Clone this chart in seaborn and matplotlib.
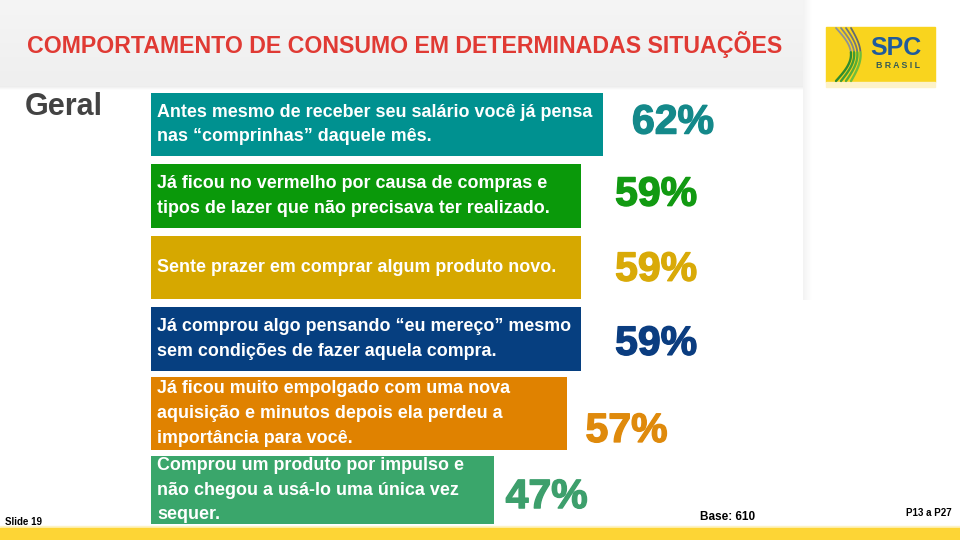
import numpy as np
import pandas as pd
import matplotlib
matplotlib.use("Agg")
import matplotlib.pyplot as plt
from matplotlib.patches import Rectangle
from matplotlib.colors import LinearSegmentedColormap
import matplotlib.patheffects as pe
import seaborn as sns

# ---------------- data ----------------
statements = [
    "Antes mesmo de receber seu salário você já pensa\nnas \u201ccomprinhas\u201d daquele mês.",
    "Já ficou no vermelho por causa de compras e\ntipos de lazer que não precisava ter realizado.",
    "Sente prazer em comprar algum produto novo.",
    "Já comprou algo pensando \u201ceu mereço\u201d mesmo\nsem condições de fazer aquela compra.",
    "Já ficou muito empolgado com uma nova\naquisição e minutos depois ela perdeu a\nimportância para você.",
    "Comprou um produto por impulso e\nnão chegou a usá-lo uma única vez\nsequer.",
]
values = [62, 59, 59, 59, 57, 47]
value_labels = ["62%", "59%", "59%", "59%", "57%", "47%"]

title = "COMPORTAMENTO DE CONSUMO EM DETERMINADAS SITUAÇÕES"
section = "Geral"
slide_note = "Slide 19"
base_note = "Base: 610"
question_note = "P13 a P27"

# ---------------- style ----------------
bar_colors = ["#009190", "#0a990a", "#d6a800", "#063f80", "#e08200", "#3aa66b"]
label_colors = ["#14898a", "#129a12", "#d9aa08", "#0b3d80", "#df8a0c", "#3d9f6c"]
bar_thickness = [0.87, 0.87, 0.87, 0.87, 1.0, 0.93]   # fraction of a category slot
bar_shift = [0, -0.025, -0.045, -0.07, -0.05, 0]       # small vertical nudge (slots)
label_dx_px = [29, 34, 34, 34, 19, 12]
label_dy_px = [-2, -3, -1, 0, 14, 7]

W, H = 960, 540
fig = plt.figure(figsize=(W / 100, H / 100), dpi=100)
fig.patch.set_facecolor("white")

# background layer in pixel coordinates
bg = fig.add_axes([0, 0, 1, 1], zorder=0)
bg.set_xlim(0, W)
bg.set_ylim(H, 0)
bg.axis("off")

hdr_cmap = LinearSegmentedColormap.from_list("hdr", ["#f5f5f5", "#f2f2f2", "#efefef"])
bg.imshow(np.linspace(0, 1, 100).reshape(-1, 1), cmap=hdr_cmap,
          extent=(0, 803, 86, 0), aspect="auto", zorder=0)
sh_cmap = LinearSegmentedColormap.from_list("sh", ["#ebebeb", "#ffffff"])
bg.imshow(np.linspace(0, 1, 50).reshape(-1, 1), cmap=sh_cmap,
          extent=(0, 803, 90, 86), aspect="auto", zorder=0)
vs_cmap = LinearSegmentedColormap.from_list("vs", ["#f3f3f3", "#ffffff"])
bg.imshow(np.linspace(0, 1, 50).reshape(1, -1), cmap=vs_cmap,
          extent=(803, 812, 300, 0), aspect="auto", zorder=0)
bg.add_patch(Rectangle((0, 526), W, 2, color="#fdf3c4", zorder=1))
bg.add_patch(Rectangle((0, 528), W, 12, color="#fdd535", zorder=1))

# logo
bg.add_patch(Rectangle((826, 27), 109, 55, color="#f9d41e", zorder=2))
bg.add_patch(Rectangle((826, 82), 109, 5, color="#fdf2c8", zorder=2))
t = np.linspace(0, 1, 60)
for k in range(4):
    xs = 836 + 5 * k + 15 * np.sin(np.pi * t) * (1 - 0.12 * k)
    ys = 28 + 53 * t
    top = t <= 0.45
    bg.plot(xs[top], ys[top], color=["#8d9298", "#7f858b", "#70777d", "#646b71"][k],
            lw=1.3, solid_capstyle="round", zorder=3)
    bg.plot(xs[~top], ys[~top], color=["#2e8c2e", "#3f9c34", "#55ad38", "#6fbd3c"][k],
            lw=1.7, solid_capstyle="round", zorder=3)
bg.text(896, 48, "SPC", color="#1f5b9c", fontsize=18, fontweight="bold",
        family="Liberation Sans", ha="center", va="center", zorder=4)
bg.text(898, 65, "B R A S I L", color="#355a55", fontsize=6.3, fontweight="bold",
        family="Liberation Sans", ha="center", va="center", zorder=4)

# title / section / notes
bg.text(27, 45, title, color="#e03a34", fontsize=16.7, fontweight="bold",
        family="Liberation Sans", ha="left", va="center", zorder=4)
bg.text(25, 107, section, color="#434343", fontsize=22, fontweight="bold",
        family="Liberation Sans", ha="left", va="center", zorder=4)
bg.text(5, 522, slide_note, color="black", fontsize=7, fontweight="bold",
        family="Liberation Sans", ha="left", va="center", zorder=4)
bg.text(700, 517, base_note, color="black", fontsize=8.5, fontweight="bold",
        family="Liberation Sans", ha="left", va="center", zorder=4)
bg.text(952, 513, question_note, color="black", fontsize=7, fontweight="bold",
        family="Liberation Sans", ha="right", va="center", zorder=4)

# ---------------- bars ----------------
px_per_pct = 7.29
ax_left, ax_top, slot = 151, 88, 73.1
ax_h = slot * len(values)
ax = fig.add_axes([ax_left / W, 1 - (ax_top + ax_h) / H, px_per_pct * 100 / W, ax_h / H],
                  zorder=2)
ax.patch.set_alpha(0)

df = pd.DataFrame({"statement": statements, "pct": values})
sns.barplot(data=df, x="pct", y="statement", hue="statement", palette=bar_colors,
            orient="h", width=0.89, saturation=1, legend=False, ax=ax)
ax.set_xlim(0, 100)
ax.set_ylim(len(values) - 0.5, -0.5)
ax.axis("off")

# adjust bar thickness per row (styling only)
bars = sorted(ax.patches, key=lambda p: p.get_y())
centers = []
for p, th, sh in zip(bars, bar_thickness, bar_shift):
    c = p.get_y() + p.get_height() / 2 + sh
    p.set_y(c - th / 2)
    p.set_height(th)
    centers.append(c)

pt = 72 / 100  # points per pixel
for i, (s, v) in enumerate(zip(statements, values)):
    ax.annotate(s, xy=(0, centers[i]), xytext=(6 * pt, 0), textcoords="offset points",
                ha="left", va="center", color="white", fontsize=12.9, fontweight="bold",
                family="Liberation Sans", linespacing=1.6)
    ax.annotate(value_labels[i], xy=(v, i),
                xytext=(label_dx_px[i] * pt, -label_dy_px[i] * pt), textcoords="offset points",
                ha="left", va="center", color=label_colors[i], fontsize=29.5,
                fontweight="bold", family="Liberation Sans",
                path_effects=[pe.withStroke(linewidth=1.0, foreground=label_colors[i])])

fig.savefig("out.png", dpi=100)
